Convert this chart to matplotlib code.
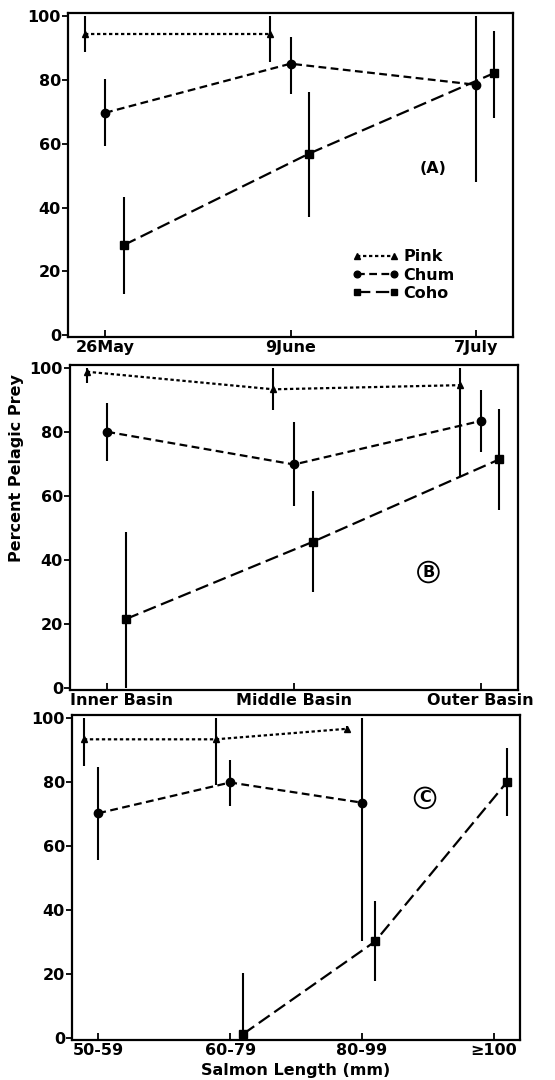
import numpy as np
import matplotlib
matplotlib.use("Agg")
import matplotlib.pyplot as plt
import matplotlib.transforms as mtransforms

nan = np.nan

species = ["Pink", "Chum", "Coho"]
offsets = [-0.11, 0.0, 0.1]
markers = ["^", "o", "s"]
msizes = [5, 6, 6]
dashes = [(1.5, 1.2), (3.5, 2.0), (6.0, 2.5)]

# panel A: sampling date
dates = ["26May", "9June", "7July"]
a_mean = {"Pink": [94.5, 94.5, nan], "Chum": [69.7, 85.1, 78.5], "Coho": [28.2, 56.9, 82.2]}
a_lo = {"Pink": [88.7, 85.6, nan], "Chum": [59.3, 75.7, 48.0], "Coho": [12.8, 37.1, 68.2]}
a_hi = {"Pink": [100, 100, nan], "Chum": [80.2, 93.4, 100], "Coho": [43.3, 76.2, 95.5]}

# panel B: basin
basins = ["Inner Basin", "Middle Basin", "Outer Basin"]
b_mean = {"Pink": [98.9, 93.4, 94.7], "Chum": [80.1, 69.9, 83.5], "Coho": [21.6, 45.7, 71.5]}
b_lo = {"Pink": [95.5, 87.0, 66.3], "Chum": [71.0, 56.9, 73.9], "Coho": [0.0, 30.0, 55.6]}
b_hi = {"Pink": [100, 100, 100], "Chum": [89.0, 83.2, 93.1], "Coho": [48.7, 61.6, 87.4]}

# panel C: salmon length
lengths = ["50-59", "60-79", "80-99", "≥100"]
c_mean = {"Pink": [93.4, 93.4, 96.7, nan], "Chum": [70.3, 79.9, 73.6, nan],
          "Coho": [nan, 1.3, 30.2, 80.0]}
c_lo = {"Pink": [85.2, 79.2, 95.7, nan], "Chum": [55.7, 72.7, 30.4, nan],
        "Coho": [nan, 0.0, 17.9, 69.3]}
c_hi = {"Pink": [100, 100, 97.7, nan], "Chum": [84.9, 86.8, 100, nan],
        "Coho": [nan, 20.3, 42.9, 90.8]}

plt.rcParams["font.family"] = ["DejaVu Sans"]
plt.rcParams["font.weight"] = "bold"
FS = 11.5

W, H = 555, 1080
fig = plt.figure(figsize=(W / 100, H / 100), dpi=100)


def add_panel(rect, cats, mean, lo, hi, label, pos, circled):
    l, t, r, b = rect
    ax = fig.add_axes([l / W, 1 - b / H, (r - l) / W, (b - t) / H])
    n = len(cats)
    base = np.arange(n)
    handles = []
    for sp, off, mk, ms, ds in zip(species, offsets, markers, msizes, dashes):
        m = np.array(mean[sp], dtype=float)
        lo_ = np.array(lo[sp], dtype=float)
        hi_ = np.array(hi[sp], dtype=float)
        x = base + off
        ok = ~np.isnan(m)
        ax.errorbar(x[ok], m[ok], yerr=[m[ok] - lo_[ok], hi_[ok] - m[ok]],
                    fmt="none", ecolor="black", elinewidth=1.5, capsize=0)
        h, = ax.plot(x[ok], m[ok], color="black", lw=1.6, dashes=ds,
                     marker=mk, ms=ms, mfc="black", mec="black", label=sp)
        handles.append(h)
    ax.set_xlim(-0.2, n - 1 + 0.2)
    ax.set_ylim(-0.6, 101)
    ax.set_xticks(base)
    ax.set_xticklabels(cats)
    ax.set_yticks([0, 20, 40, 60, 80, 100])
    ax.tick_params(axis="x", direction="in", length=5, width=1.3,
                   labelsize=FS, pad=2)
    ax.tick_params(axis="y", direction="out", length=4, width=1.3,
                   labelsize=FS, pad=1)
    for s in ax.spines.values():
        s.set_linewidth(1.6)
    if circled:
        ax.text(pos[0], pos[1], label, transform=ax.transAxes,
                ha="center", va="center", fontsize=FS, fontweight="bold",
                bbox=dict(boxstyle="circle,pad=0.18", fc="white", ec="black", lw=1.3))
    else:
        ax.text(pos[0], pos[1], "(" + label + ")", transform=ax.transAxes,
                ha="center", va="center", fontsize=FS, fontweight="bold")
    return ax, handles


axA, hA = add_panel((68, 13, 513, 337), dates, a_mean, a_lo, a_hi, "A",
                    (0.82, 0.52), False)
axA.legend(handles=hA, loc="upper left", bbox_to_anchor=(0.625, 0.29),
           frameon=False, numpoints=2, handlelength=2.9, handletextpad=0.3,
           labelspacing=0.2, fontsize=FS, borderaxespad=0, markerscale=0.8)

axB, _ = add_panel((70, 365, 518, 690), basins, b_mean, b_lo, b_hi, "B",
                   (0.80, 0.363), True)
# first basin label sits a little right of its tick
lab = axB.get_xticklabels()[0]
lab.set_transform(lab.get_transform() +
                  mtransforms.ScaledTranslation(14 / 100, 0, fig.dpi_scale_trans))

axC, _ = add_panel((72, 715, 520, 1040), lengths, c_mean, c_lo, c_hi, "C",
                   (0.788, 0.745), True)

fig.text(17 / W, 1 - 468 / H, "Percent Pelagic Prey", rotation=90,
         ha="center", va="center", fontsize=FS, fontweight="bold")
fig.text(296 / W, 1 - 1070 / H, "Salmon Length (mm)", ha="center", va="center",
         fontsize=FS, fontweight="bold")

fig.savefig("out.png", dpi=100)
